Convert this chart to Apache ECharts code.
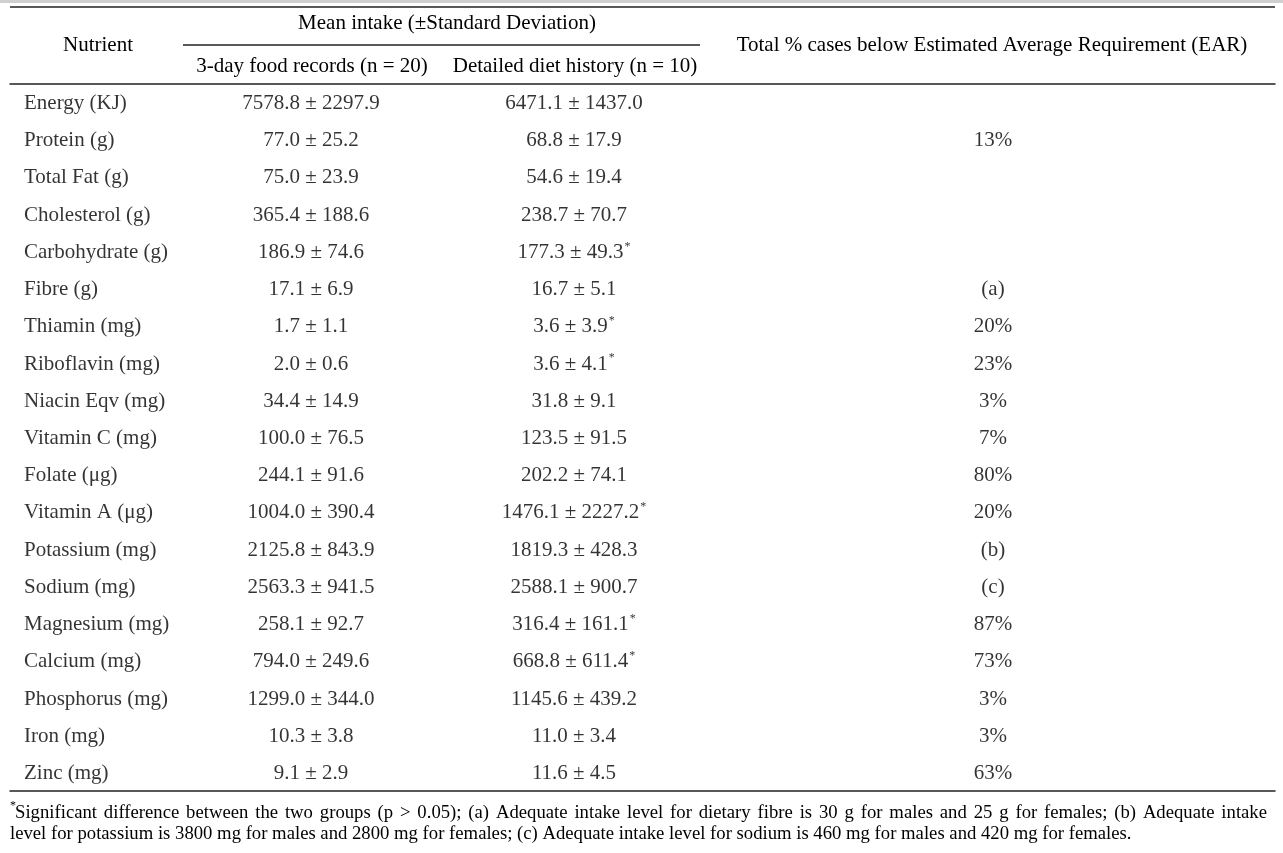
<!DOCTYPE html>
<html>
<head>
<meta charset="utf-8">
<script src="https://cdn.jsdelivr.net/npm/echarts@6/dist/echarts.min.js"></script>
<style>
html,body{margin:0;padding:0;background:#fff;}
#chart{width:1283px;height:853px;}
</style>
</head>
<body>
<div id="chart"></div>
<script>
// ---- data ----
var nutrients = ['Energy (KJ)','Protein (g)','Total Fat (g)','Cholesterol (g)','Carbohydrate (g)','Fibre (g)','Thiamin (mg)','Riboflavin (mg)','Niacin Eqv (mg)','Vitamin C (mg)','Folate (μg)','Vitamin A (μg)','Potassium (mg)','Sodium (mg)','Magnesium (mg)','Calcium (mg)','Phosphorus (mg)','Iron (mg)','Zinc (mg)'];
var foodRecordMean = [7578.8,77.0,75.0,365.4,186.9,17.1,1.7,2.0,34.4,100.0,244.1,1004.0,2125.8,2563.3,258.1,794.0,1299.0,10.3,9.1];
var foodRecordSD   = [2297.9,25.2,23.9,188.6,74.6,6.9,1.1,0.6,14.9,76.5,91.6,390.4,843.9,941.5,92.7,249.6,344.0,3.8,2.9];
var dietHistoryMean = [6471.1,68.8,54.6,238.7,177.3,16.7,3.6,3.6,31.8,123.5,202.2,1476.1,1819.3,2588.1,316.4,668.8,1145.6,11.0,11.6];
var dietHistorySD   = [1437.0,17.9,19.4,70.7,49.3,5.1,3.9,4.1,9.1,91.5,74.1,2227.2,428.3,900.7,161.1,611.4,439.2,3.4,4.5];
var dietHistorySig  = [false,false,false,false,true,false,true,true,false,false,false,true,false,false,true,true,false,false,false];
var earBelow = ['','13%','','','','(a)','20%','23%','3%','7%','80%','20%','(b)','(c)','87%','73%','3%','3%','63%'];
var headerTop = 'Mean intake (±Standard Deviation)';
var headerCols = ['Nutrient','3-day food records (n = 20)','Detailed diet history (n = 10)','Total % cases below Estimated Average Requirement (EAR)'];
var footnote1 = 'Significant difference between the two groups (p > 0.05); (a) Adequate intake level for dietary fibre is 30 g for males and 25 g for females; (b) Adequate intake';
var footnote2 = 'level for potassium is 3800 mg for males and 2800 mg for females; (c) Adequate intake level for sodium is 460 mg for males and 420 mg for females.';

// ---- layout (positions in table pixel units along x axis) ----
var COL_X = {name: 14, c1: 301, c2: 564, c3: 983};
var FONT = '"Liberation Serif","Times New Roman",serif';
var TXT = '#000';
var FOOT_SIZE = 18.7;

function pm(m, s){ return m.toFixed(1) + ' ± ' + s.toFixed(1); }

// justified first footnote line (rich text with widened gaps)
function justify(text, fontPx, target){
  var ctx = document.createElement('canvas').getContext('2d');
  ctx.font = fontPx + 'px ' + FONT;
  var words = text.split(' ');
  var wordsW = 0;
  words.forEach(function(w){ wordsW += ctx.measureText(w).width; });
  var gap = (target - wordsW) / (words.length - 1);
  return {
    text: words.map(function(w){ return '{t|' + w + '}'; }).join('{g| }'),
    gap: gap
  };
}
var just1 = justify(footnote1, FOOT_SIZE, 1252);

var chart = echarts.init(document.getElementById('chart'));

function colSeries(x, texts, align){
  return {
    type: 'scatter',
    symbolSize: 1,
    itemStyle: {color: 'rgba(0,0,0,0)'},
    silent: true,
    data: texts.map(function(t, i){ return {value: [x, i], txt: t}; }),
    label: {
      show: true,
      position: 'inside',
      align: align,
      verticalAlign: 'middle',
      offset: [0, 1.5],
      formatter: function(p){ return p.data.txt; },
      fontFamily: FONT,
      fontSize: 21,
      color: TXT,
      rich: {
        v: {fontFamily: FONT, fontSize: 21, color: TXT, lineHeight: 24, verticalAlign: 'middle'},
        s: {fontFamily: FONT, fontSize: 12, color: TXT, lineHeight: 24, verticalAlign: 'top', padding: [0,0,0,1]}
      }
    }
  };
}

var col1 = foodRecordMean.map(function(m, i){ return pm(m, foodRecordSD[i]); });
var col2 = dietHistoryMean.map(function(m, i){
  return '{v|' + pm(m, dietHistorySD[i]) + '}' + (dietHistorySig[i] ? '{s|*}' : '');
});

var axisCommon = {
  type: 'value', min: 0, max: 1265,
  axisTick: {show: false}, axisLabel: {show: false}, splitLine: {show: false},
  axisLine: {show: true, onZero: false, lineStyle: {color: '#222', width: 1.5}}
};

var option = {
  backgroundColor: '#fff',
  animation: false,
  grid: {left: 10, right: 8, top: 83.4, height: 707.2},
  xAxis: [
    Object.assign({position: 'bottom'}, axisCommon),
    Object.assign({position: 'top'}, axisCommon)
  ],
  yAxis: {
    type: 'category', data: nutrients, inverse: true,
    axisLine: {show: false}, axisTick: {show: false}, axisLabel: {show: false}, splitLine: {show: false}
  },
  series: [
    colSeries(COL_X.name, nutrients, 'left'),
    colSeries(COL_X.c1, col1, 'center'),
    colSeries(COL_X.c2, col2, 'center'),
    colSeries(COL_X.c3, earBelow, 'center')
  ],
  graphic: [
    {type: 'rect', shape: {x: 0, y: 0, width: 1283, height: 3}, style: {fill: '#cfcfcf'}},
    {type: 'line', shape: {x1: 10, y1: 7, x2: 1275, y2: 7}, style: {stroke: '#222', lineWidth: 1.5}},
    {type: 'line', shape: {x1: 183, y1: 45, x2: 700, y2: 45}, style: {stroke: '#222', lineWidth: 1.5}},
    {type: 'text', x: 98, y: 45, style: {text: headerCols[0], font: '21px ' + FONT, fill: TXT, textAlign: 'center', textVerticalAlign: 'middle'}},
    {type: 'text', x: 447, y: 23, style: {text: headerTop, font: '21px ' + FONT, fill: TXT, textAlign: 'center', textVerticalAlign: 'middle'}},
    {type: 'text', x: 312, y: 66, style: {text: headerCols[1], font: '21px ' + FONT, fill: TXT, textAlign: 'center', textVerticalAlign: 'middle'}},
    {type: 'text', x: 575, y: 66, style: {text: headerCols[2], font: '21px ' + FONT, fill: TXT, textAlign: 'center', textVerticalAlign: 'middle'}},
    {type: 'text', x: 992, y: 45, style: {text: headerCols[3], font: '21px ' + FONT, fill: TXT, textAlign: 'center', textVerticalAlign: 'middle'}},
    {type: 'text', x: 10, y: 806, style: {text: '*', font: '12px ' + FONT, fill: TXT, textAlign: 'left', textVerticalAlign: 'middle'}},
    {type: 'text', x: 15, y: 813, style: {
      text: just1.text, textAlign: 'left', textVerticalAlign: 'middle',
      rich: {
        t: {fontFamily: FONT, fontSize: FOOT_SIZE, fill: TXT, lineHeight: 22},
        g: {fontFamily: FONT, fontSize: FOOT_SIZE, fill: TXT, lineHeight: 22, width: just1.gap}
      }
    }},
    {type: 'text', x: 10, y: 834, style: {text: footnote2, font: FOOT_SIZE + 'px ' + FONT, fill: TXT, textAlign: 'left', textVerticalAlign: 'middle'}}
  ]
};
chart.setOption(option);
</script>
</body>
</html>
